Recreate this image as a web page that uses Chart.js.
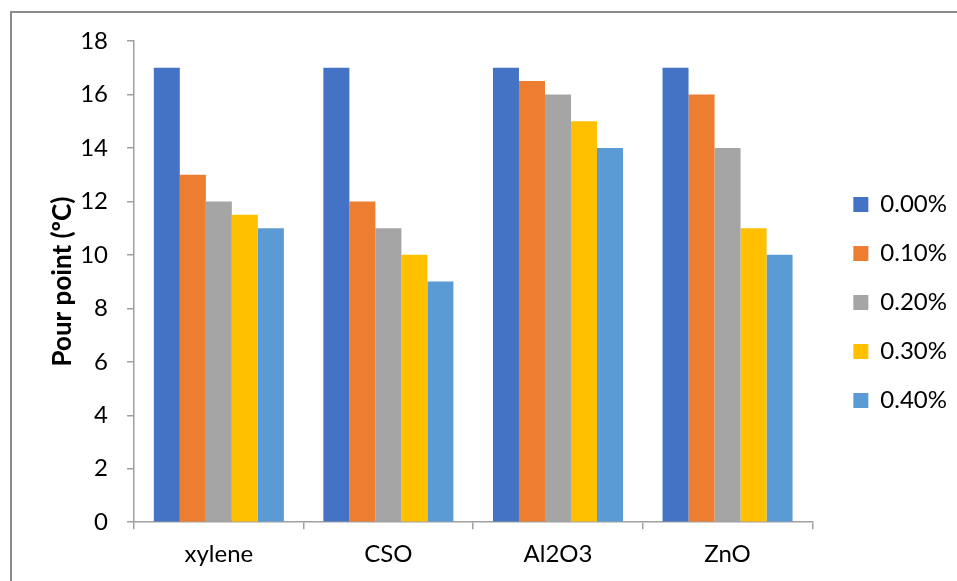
<!DOCTYPE html>
<html>
<head>
<meta charset="utf-8">
<script src="https://cdn.jsdelivr.net/npm/chart.js@4.4.1/dist/chart.umd.min.js"></script>
<style>
  html, body { margin: 0; padding: 0; background: #fff; overflow: hidden; }
  #frame { position: absolute; left: 10px; top: 11px; width: 1000px; height: 700px;
           border-top: 2px solid #8c8c8c; border-left: 2px solid #8c8c8c; box-sizing: border-box; }
  #wrap { position: absolute; left: 0; top: 0; width: 957px; height: 581px; }
</style>
</head>
<body>
<div id="frame"></div>
<div id="wrap"><canvas id="chart"></canvas></div>
<script>
// Pour point of each additive at increasing dosage
const categories = ['xylene', 'CSO', 'Al2O3', 'ZnO'];
const seriesNames = ['0.00%', '0.10%', '0.20%', '0.30%', '0.40%'];
const dose000 = [17, 17, 17, 17];
const dose010 = [13, 12, 16.5, 16];
const dose020 = [12, 11, 16, 14];
const dose030 = [11.5, 10, 15, 11];
const dose040 = [11, 9, 14, 10];
const yTicks = [0, 2, 4, 6, 8, 10, 12, 14, 16, 18];

const seriesValues = [dose000, dose010, dose020, dose030, dose040];
const seriesColors = ['#4472C4', '#ED7D31', '#A5A5A5', '#FFC000', '#5B9BD5'];

const axisColor = '#a0a0a0';
const fontFamily = 'Lato, "Open Sans", sans-serif';

// Leave a gap between the plot and the legend, and lift the legend a little
const legendNudge = {
  id: 'legendNudge',
  afterLayout(chart) {
    const lg = chart.legend;
    if (!lg) return;
    lg.left += 16;
    lg.right += 16;
    lg.top -= 8;
    lg.bottom -= 8;
  }
};

new Chart(document.getElementById('chart'), {
  type: 'bar',
  data: {
    labels: categories,
    datasets: seriesValues.map((vals, i) => ({
      label: seriesNames[i],
      data: vals,
      backgroundColor: seriesColors[i],
      borderWidth: 0,
      categoryPercentage: 0.767,
      barPercentage: 1.0
    }))
  },
  plugins: [legendNudge],
  options: {
    responsive: true,
    maintainAspectRatio: false,
    animation: false,
    layout: { padding: { left: 47, right: 16, top: 41, bottom: 1 } },
    plugins: {
      tooltip: { enabled: false },
      legend: {
        position: 'right',
        labels: {
          boxWidth: 15,
          boxHeight: 15,
          padding: 25,
          color: '#000',
          font: { family: fontFamily, size: 24 }
        }
      }
    },
    scales: {
      x: {
        grid: {
          drawOnChartArea: false,
          drawTicks: true,
          tickLength: 7,
          color: axisColor,
          lineWidth: 1.5
        },
        border: { color: axisColor, width: 1.5 },
        ticks: { color: '#000', padding: 11, font: { family: fontFamily, size: 24 } }
      },
      y: {
        min: 0,
        max: 18,
        afterBuildTicks: (axis) => { axis.ticks = yTicks.map(v => ({ value: v })); },
        grid: {
          drawOnChartArea: false,
          drawTicks: true,
          tickLength: 7,
          color: axisColor,
          lineWidth: 1.5
        },
        border: { color: axisColor, width: 1.5 },
        ticks: { color: '#000', padding: 19, font: { family: fontFamily, size: 24 } },
        title: {
          display: true,
          text: 'Pour point (ºC)',
          color: '#000',
          padding: { top: 0, bottom: -17 },
          font: { family: fontFamily, size: 26, weight: 'bold' }
        }
      }
    }
  }
});
</script>
</body>
</html>
